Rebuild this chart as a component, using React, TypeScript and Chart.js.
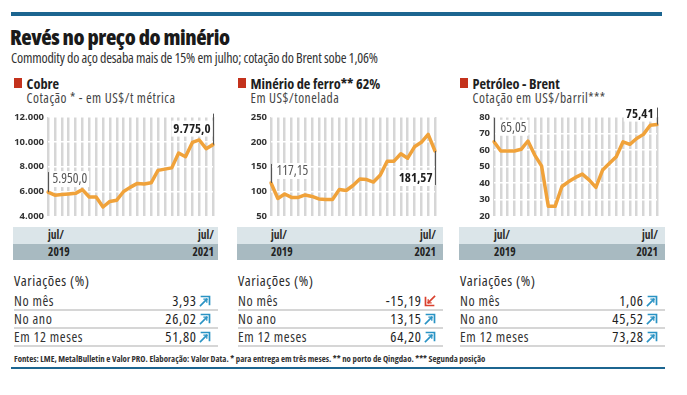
import React, { useEffect, useRef } from "react";
import { Chart, registerables } from "chart.js";
Chart.register(...registerables);

const FONT = '"Open Sans"';

const months = [
  "jul/19", "ago/19", "set/19", "out/19", "nov/19", "dez/19",
  "jan/20", "fev/20", "mar/20", "abr/20", "mai/20", "jun/20",
  "jul/20", "ago/20", "set/20", "out/20", "nov/20", "dez/20",
  "jan/21", "fev/21", "mar/21", "abr/21", "mai/21", "jun/21", "jul/21",
];

const cobre = [5950, 5700, 5750, 5800, 5850, 6150, 5550, 5550, 4750, 5200, 5300, 6000, 6350, 6650, 6600, 6700, 7700, 7800, 7900, 9100, 8800, 9950, 10150, 9450, 9775];
const ferro = [117.15, 86, 95, 88, 88, 93, 90, 85, 84, 84, 104, 102, 112, 125, 124, 119, 133, 161, 161, 176, 167, 190, 199, 215, 181.57];
const brent = [65.05, 59.5, 59.5, 59.5, 60.5, 65.5, 57, 50.5, 26, 26, 38, 41, 43.5, 45.5, 42, 37.5, 48, 52, 56, 65, 63.5, 67, 69.5, 75, 75.41];

const cobreAxis = { min: 4000, max: 12000, step: 2000 };
const ferroAxis = { min: 50, max: 250, step: 50 };
const brentAxis = { min: 20, max: 80, step: 10 };

const bandTop = ["jul/", "jul/"];
const bandBottom = ["2019", "2021"];

const panelTitles = ["Cobre", "Minério de ferro** 62%", "Petróleo - Brent"];
const panelSubtitles = ["Cotação * - em US$/t métrica", "Em US$/tonelada", "Cotação em US$/barril***"];

const rowLabels = ["No mês", "No ano", "Em 12 meses"];
const varCobre = [3.93, 26.02, 51.8];
const varFerro = [-15.19, 13.15, 64.2];
const varBrent = [1.06, 45.52, 73.28];

const fmt = (v: number, d: number) =>
  v.toLocaleString("pt-BR", { minimumFractionDigits: d, maximumFractionDigits: d });

const BLUE = "#1c6590";
const TEXT = "#2b2b2b";

const annPlugin = {
  id: "ann",
  afterDatasetsDraw(chart: any, _args: any, opts: any) {
    const ctx = chart.ctx;
    const pts = chart.getDatasetMeta(0).data;
    for (const it of opts.items || []) {
      const p = pts[it.index];
      const x = Math.round(p.x) + 0.5;
      ctx.save();
      ctx.font = `${it.bold ? "bold " : ""}condensed ${it.bold ? 13 : 13.5}px ${FONT}`;
      const w = ctx.measureText(it.text).width;
      const lx = it.side === "right" ? x + it.dx : x - it.dx - w;
      const ly = p.y + it.dy;
      ctx.fillStyle = "#fff";
      ctx.fillRect(lx - 2, ly - 8, w + 4, 16);
      ctx.strokeStyle = "#555";
      ctx.lineWidth = 1;
      ctx.beginPath();
      ctx.moveTo(x, p.y + it.y1);
      ctx.lineTo(x, p.y + it.y2);
      ctx.stroke();
      ctx.fillStyle = it.bold ? "#1e1e1e" : "#555";
      ctx.textBaseline = "middle";
      ctx.textAlign = "left";
      ctx.fillText(it.text, lx, ly + 0.5);
      ctx.restore();
    }
  },
};

type PanelChartProps = {
  values: number[];
  axis: { min: number; max: number; step: number };
  tickFmt: (v: number) => string;
  axisWidth: number;
  padRight: number;
  width: number;
  ann: any[];
};

function PanelChart({ values, axis, tickFmt, axisWidth, padRight, width, ann }: PanelChartProps) {
  const ref = useRef<HTMLCanvasElement | null>(null);
  useEffect(() => {
    if (!ref.current) return;
    const chart = new Chart(ref.current, {
      type: "line",
      data: {
        labels: months,
        datasets: [
          {
            data: values,
            borderColor: "#f0a23a",
            borderWidth: 3.5,
            pointRadius: 0,
            tension: 0,
            borderJoinStyle: "round",
            borderCapStyle: "round",
            fill: false,
          },
        ],
      },
      options: {
        animation: false,
        responsive: false,
        maintainAspectRatio: false,
        layout: { padding: { top: 13, right: padRight, bottom: 4, left: 0 } },
        plugins: {
          legend: { display: false },
          tooltip: { enabled: false },
          ann: { items: ann },
        } as any,
        scales: {
          x: {
            type: "category",
            offset: false,
            grid: { color: "#d6d6d6", lineWidth: 2.5, drawTicks: false, z: -2 } as any,
            border: { display: false },
            ticks: { display: false },
          },
          y: {
            min: axis.min,
            max: axis.max,
            ticks: {
              stepSize: axis.step,
              callback: (v: any) => tickFmt(Number(v)),
              font: { family: FONT, size: 9.5, weight: "bold", style: "condensed" as any },
              color: "#333",
              padding: 4,
            },
            grid: { color: "#ffffff", lineWidth: 1.5, drawTicks: false, z: -1 } as any,
            border: { display: false },
            afterFit: (s: any) => {
              s.width = axisWidth;
            },
          },
        },
      },
      plugins: [annPlugin],
    } as any);
    return () => chart.destroy();
  }, []);
  return <canvas ref={ref} width={width} height={122} style={{ display: "block", width, height: 122 }} />;
}

function Arrow({ up }: { up: boolean }) {
  const c = up ? "#2a93c4" : "#d9412e";
  return (
    <svg width="12" height="12" viewBox="0 0 12 12" style={{ display: "block" }}>
      <g transform={up ? "" : "rotate(180 6 6)"} stroke={c} fill="none" strokeLinecap="square">
        <polyline points="2.5,1.5 10.5,1.5 10.5,9.5" strokeWidth="1.7" />
        <polyline points="5,4.2 7.8,4.2 7.8,7" strokeWidth="1.3" />
        <line x1="1.5" y1="10.5" x2="7.8" y2="4.2" strokeWidth="1.7" />
      </g>
    </svg>
  );
}

const cond: React.CSSProperties = { fontFamily: FONT, fontStretch: "75%", whiteSpace: "nowrap" };

type PanelProps = {
  left: number;
  width: number;
  title: string;
  subtitle: string;
  chart: PanelChartProps;
  firstX: number;
  lastX: number;
  vars: number[];
};

function Panel({ left, width, title, subtitle, chart, firstX, lastX, vars }: PanelProps) {
  const abs = (s: React.CSSProperties): React.CSSProperties => ({ position: "absolute", ...s });
  return (
    <>
      <div style={abs({ left: left + 3, top: 78, width: 8, height: 10, background: "#c4321c" })} />
      <div style={abs({ ...cond, left: left + 15.5, top: 76, fontWeight: "bold", fontSize: 14.3, lineHeight: "15px", color: "#1e1e1e" })}>
        {title}
      </div>
      <div style={abs({ ...cond, left: left + 15.5, top: 91, fontSize: 13.5, lineHeight: "14px", letterSpacing: "0.5px", color: "#444" })}>
        {subtitle}
      </div>
      <div style={abs({ left, top: 104, width: chart.width, height: 122 })}>
        <PanelChart {...chart} />
      </div>
      <div style={abs({ left: left + 2, top: 227, width: width - 2, height: 17, background: "#dbe5e9" })} />
      <div style={abs({ left: left + 2, top: 244, width: width - 2, height: 16, background: "#a8bac1" })} />
      <div style={abs({ ...cond, left: firstX, top: 229, fontWeight: "bold", fontSize: 11.5, lineHeight: "12px", color: "#2b2b2b" })}>{bandTop[0]}</div>
      <div style={abs({ ...cond, left: lastX - 40, width: 40, textAlign: "right", top: 229, fontWeight: "bold", fontSize: 11.5, lineHeight: "12px", color: "#2b2b2b" })}>{bandTop[1]}</div>
      <div style={abs({ ...cond, left: firstX, top: 245.5, fontWeight: "bold", fontSize: 11.5, lineHeight: "12px", color: "#222" })}>{bandBottom[0]}</div>
      <div style={abs({ ...cond, left: lastX - 40, width: 40, textAlign: "right", top: 245.5, fontWeight: "bold", fontSize: 11.5, lineHeight: "12px", color: "#222" })}>{bandBottom[1]}</div>
      <div style={abs({ ...cond, left: left + 3, top: 273, fontSize: 14.5, lineHeight: "15px", letterSpacing: "0.55px", color: TEXT })}>Variações (%)</div>
      {rowLabels.map((r, i) => (
        <div key={r} style={abs({ left: left + 3, top: 293 + i * 18, width: width - 3, height: 16, borderBottom: "2px solid #d6d6d6" })}>
          <div style={abs({ ...cond, left: 0, top: 0, fontSize: 14, lineHeight: "15px", letterSpacing: "0.6px", color: "#333" })}>{r}</div>
          <div style={abs({ ...cond, right: 21.3, top: 0, fontSize: 14.5, lineHeight: "15px", letterSpacing: "0.7px", color: "#1e1e1e", textAlign: "right" })}>{fmt(vars[i], 2)}</div>
          <div style={abs({ right: 7, top: 2 })}>
            <Arrow up={vars[i] >= 0} />
          </div>
        </div>
      ))}
    </>
  );
}

export default function App() {
  const abs = (s: React.CSSProperties): React.CSSProperties => ({ position: "absolute", ...s });
  return (
    <div style={abs({ left: 0, top: 0, width: 687, height: 395, background: "#fff", overflow: "hidden" })}>
      <div style={abs({ left: 11, top: 12, width: 651, height: 4, background: BLUE })} />
      <div style={abs({ ...cond, left: 10, top: 25, fontWeight: 800, fontSize: 21.5, lineHeight: "24px", letterSpacing: "-0.45px", color: "#1a1a1a" })}>
        Revés no preço do minério
      </div>
      <div style={abs({ ...cond, left: 11, top: 50, fontSize: 14, lineHeight: "16px", letterSpacing: "-0.2px", color: "#333" })}>
        Commodity do aço desaba mais de 15% em julho; cotação do Brent sobe 1,06%
      </div>

      <Panel
        left={11}
        width={207}
        title={panelTitles[0]}
        subtitle={panelSubtitles[0]}
        firstX={48}
        lastX={214}
        vars={varCobre}
        chart={{
          values: cobre,
          axis: cobreAxis,
          tickFmt: (v) => v.toLocaleString("pt-BR"),
          axisWidth: 37,
          padRight: 5,
          width: 207,
          ann: [
            { index: 0, text: fmt(cobre[0], 1), bold: false, y1: -20, y2: 0, side: "right", dx: 4, dy: -13 },
            { index: cobre.length - 1, text: fmt(cobre[cobre.length - 1], 1), bold: true, y1: -31, y2: 0, side: "left", dx: 3, dy: -16 },
          ],
        }}
      />
      <Panel
        left={235}
        width={208}
        title={panelTitles[1]}
        subtitle={panelSubtitles[1]}
        firstX={271}
        lastX={436}
        vars={varFerro}
        chart={{
          values: ferro,
          axis: ferroAxis,
          tickFmt: (v) => String(v),
          axisWidth: 36,
          padRight: 8,
          width: 208,
          ann: [
            { index: 0, text: fmt(ferro[0], 2), bold: false, y1: -19, y2: 0, side: "right", dx: 5, dy: -12 },
            { index: ferro.length - 1, text: fmt(ferro[ferro.length - 1], 2), bold: true, y1: 0, y2: 34, side: "left", dx: 3, dy: 27 },
          ],
        }}
      />
      <Panel
        left={457}
        width={208}
        title={panelTitles[2]}
        subtitle={panelSubtitles[2]}
        firstX={494}
        lastX={658}
        vars={varBrent}
        chart={{
          values: brent,
          axis: brentAxis,
          tickFmt: (v) => String(v),
          axisWidth: 37,
          padRight: 8,
          width: 208,
          ann: [
            { index: 0, text: fmt(brent[0], 2), bold: false, y1: -24, y2: 0, side: "right", dx: 6, dy: -14 },
            { index: brent.length - 1, text: fmt(brent[brent.length - 1], 2), bold: true, y1: -17, y2: 0, side: "left", dx: 4, dy: -11 },
          ],
        }}
      />

      <div style={abs({ ...cond, left: 14, top: 354, fontWeight: "bold", fontSize: 8.8, lineHeight: "10px", color: "#333" })}>
        Fontes: LME, MetalBulletin e Valor PRO. Elaboração: Valor Data. * para entrega em três meses. ** no porto de Qingdao. *** Segunda posição
      </div>
      <div style={abs({ left: 11, top: 367, width: 654, height: 2, background: BLUE })} />
    </div>
  );
}
